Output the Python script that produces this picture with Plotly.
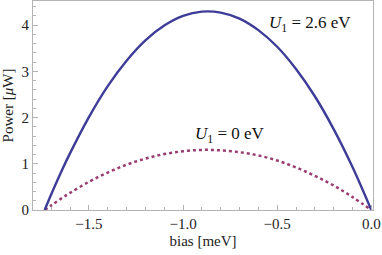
import plotly.graph_objects as go

bias = [-1.735, -1.7, -1.65, -1.6, -1.5, -1.4, -1.3, -1.2, -1.1, -1.0, -0.9,
        -0.8, -0.7, -0.6, -0.5, -0.4, -0.3, -0.2, -0.1, 0.0]
power_u26 = [0.0, 0.34, 0.80, 1.23, 2.01, 2.68, 3.23, 3.67, 3.99, 4.20, 4.29,
             4.27, 4.14, 3.89, 3.53, 3.05, 2.46, 1.75, 0.93, 0.0]
power_u0 = [0.0, 0.10, 0.24, 0.37, 0.61, 0.81, 0.98, 1.11, 1.21, 1.27, 1.30,
            1.29, 1.25, 1.18, 1.07, 0.92, 0.74, 0.53, 0.28, 0.0]
x_ticks = [-1.5, -1.0, -0.5, 0.0]
x_ticklabels = ["\u22121.5", "\u22121.0", "\u22120.5", "0.0"]
y_ticks = [0, 1, 2, 3, 4]

font = "Liberation Serif"
axcol = "#b4b4b4"

fig = go.Figure()
fig.add_trace(go.Scatter(x=bias, y=power_u0, mode="lines", line_shape="spline",
                         line=dict(color="#993d71", width=2.5, dash="3px,3px")))
fig.add_trace(go.Scatter(x=bias, y=power_u26, mode="lines", line_shape="spline",
                         line=dict(color="#3d3d99", width=2.4)))

fig.add_annotation(x=-0.327, y=4.02, xref="x", yref="y", showarrow=False,
                   text="<i>U</i><sub>1</sub> = 2.6 eV",
                   font=dict(family=font, size=17, color="#111"))
fig.add_annotation(x=-0.751, y=1.62, xref="x", yref="y", showarrow=False,
                   text="<i>U</i><sub>1</sub> = 0 eV",
                   font=dict(family=font, size=17, color="#111"))

fig.update_layout(
    width=382, height=255,
    margin=dict(l=33, r=9, t=1, b=45),
    paper_bgcolor="white", plot_bgcolor="white",
    showlegend=False,
    font=dict(family=font, size=15, color="#222"),
    xaxis=dict(range=[-1.797, 0.009], tickvals=x_ticks, ticktext=x_ticklabels,
               automargin=False,
               ticks="inside", ticklen=5, tickcolor=axcol, showgrid=False,
               zeroline=False, showline=True, linecolor=axcol, linewidth=1,
               mirror=True, tickfont=dict(size=15),
               minor=dict(dtick=0.1, ticks="inside", ticklen=3, tickcolor=axcol, showgrid=False),
               title=dict(text="bias [meV]", font=dict(size=15), standoff=4)),
    yaxis=dict(range=[0, 4.52], tickvals=y_ticks,
               automargin=False,
               ticks="inside", ticklen=5, tickcolor=axcol, showgrid=False,
               zeroline=False, showline=True, linecolor=axcol, linewidth=1,
               mirror=True, tickfont=dict(size=15),
               minor=dict(dtick=0.2, ticks="inside", ticklen=3, tickcolor=axcol, showgrid=False),
               title=dict(text="Power [<i>\u03bc</i>W]", font=dict(size=15), standoff=4)),
)

fig.write_html("out.html", config={"displayModeBar": False},
               post_script="document.body.style.margin='0';document.body.style.padding='0';")
